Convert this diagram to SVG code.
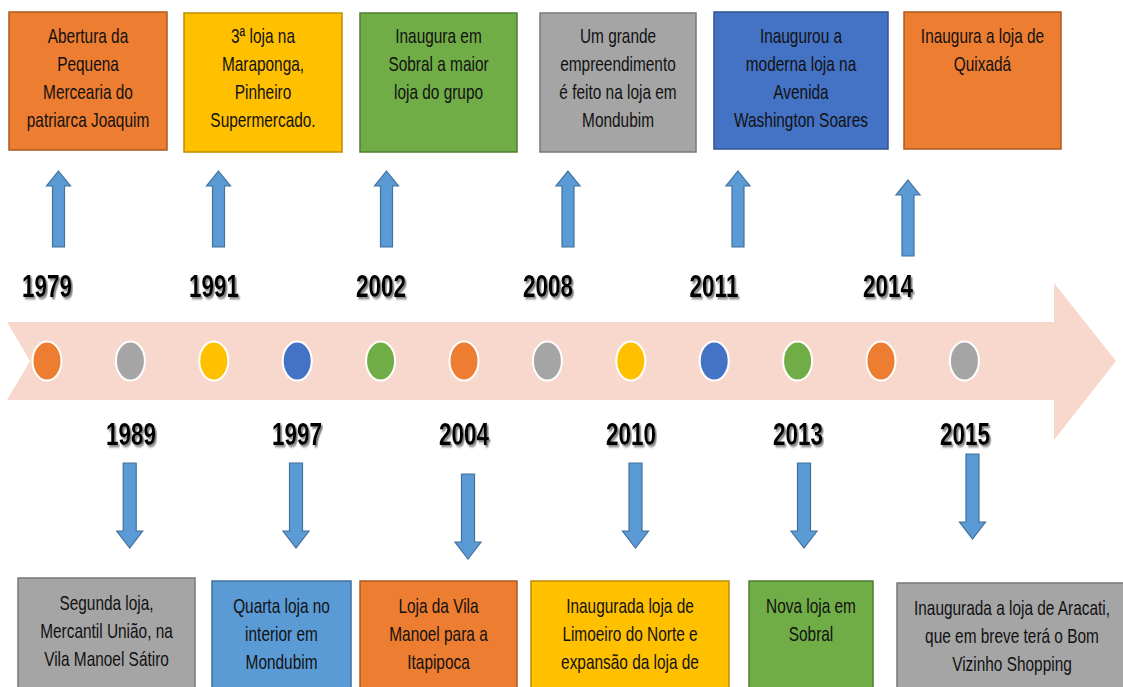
<svg xmlns="http://www.w3.org/2000/svg" width="1123" height="687" viewBox="0 0 1123 687">
<style>
.box{stroke-width:1.5}
.or{fill:#ED7D31;stroke:#AE5A21}
.ye{fill:#FFC000;stroke:#BC8C00}
.gr{fill:#70AD47;stroke:#507E32}
.gy{fill:#A5A5A5;stroke:#787878}
.bl{fill:#4472C4;stroke:#2F528F}
.lb{fill:#5B9BD5;stroke:#41719C}
.t{font-family:"Liberation Sans",Arial,sans-serif;font-size:15.4px;fill:#111;text-anchor:middle}
.yr{font-family:"Liberation Sans",Arial,sans-serif;font-weight:bold;font-size:22.5px;fill:#000;text-anchor:middle;filter:url(#sh)}
.arr{fill:#5B9BD5;stroke:#41719C;stroke-width:1.2}
.dot{stroke:#fff;stroke-width:2}
</style>
<defs>
<filter id="sh" x="-20%" y="-20%" width="140%" height="140%">
<feDropShadow dx="1.6" dy="1.6" stdDeviation="0.6" flood-color="#6e6e6e" flood-opacity="0.9"/>
</filter>
<path id="up" d="M0,0 L12,15 L6,15 L6,76 L-6,76 L-6,15 L-12,15 Z"/>
<path id="dn" d="M-6.5,0 L6.5,0 L6.5,68 L13,68 L0,85 L-13,68 L-6.5,68 Z"/>
</defs>
<rect width="1123" height="687" fill="#fff"/>

<g id="timeline">
<path d="M7,322 L1054,322 L1054,283 L1116,361 L1054,440 L1054,400 L7,400 L30,361 Z" fill="#F8D8CD"/>
<ellipse class="dot" cx="47" cy="361" rx="14.5" ry="19.5" fill="#ED7D31"/>
<ellipse class="dot" cx="130.4" cy="361" rx="14.5" ry="19.5" fill="#A5A5A5"/>
<ellipse class="dot" cx="213.8" cy="361" rx="14.5" ry="19.5" fill="#FFC000"/>
<ellipse class="dot" cx="297.2" cy="361" rx="14.5" ry="19.5" fill="#4472C4"/>
<ellipse class="dot" cx="380.6" cy="361" rx="14.5" ry="19.5" fill="#70AD47"/>
<ellipse class="dot" cx="464" cy="361" rx="14.5" ry="19.5" fill="#ED7D31"/>
<ellipse class="dot" cx="547.4" cy="361" rx="14.5" ry="19.5" fill="#A5A5A5"/>
<ellipse class="dot" cx="630.8" cy="361" rx="14.5" ry="19.5" fill="#FFC000"/>
<ellipse class="dot" cx="714.2" cy="361" rx="14.5" ry="19.5" fill="#4472C4"/>
<ellipse class="dot" cx="797.6" cy="361" rx="14.5" ry="19.5" fill="#70AD47"/>
<ellipse class="dot" cx="881" cy="361" rx="14.5" ry="19.5" fill="#ED7D31"/>
<ellipse class="dot" cx="964.4" cy="361" rx="14.5" ry="19.5" fill="#A5A5A5"/>
</g>

<g id="years">
<text class="yr" transform="matrix(1 0 0 1.36 47 297)">1979</text>
<text class="yr" transform="matrix(1 0 0 1.36 214 297)">1991</text>
<text class="yr" transform="matrix(1 0 0 1.36 381 297)">2002</text>
<text class="yr" transform="matrix(1 0 0 1.36 548 297)">2008</text>
<text class="yr" transform="matrix(1 0 0 1.36 714 297)">2011</text>
<text class="yr" transform="matrix(1 0 0 1.36 888 297)">2014</text>
<text class="yr" transform="matrix(1 0 0 1.36 131 445)">1989</text>
<text class="yr" transform="matrix(1 0 0 1.36 297 445)">1997</text>
<text class="yr" transform="matrix(1 0 0 1.36 464 445)">2004</text>
<text class="yr" transform="matrix(1 0 0 1.36 631 445)">2010</text>
<text class="yr" transform="matrix(1 0 0 1.36 798 445)">2013</text>
<text class="yr" transform="matrix(1 0 0 1.36 965 445)">2015</text>
</g>

<g id="connectors">
<use href="#up" class="arr" transform="translate(58.5,171)"/>
<use href="#up" class="arr" transform="translate(218.5,171)"/>
<use href="#up" class="arr" transform="translate(386.5,171)"/>
<use href="#up" class="arr" transform="translate(568,171)"/>
<use href="#up" class="arr" transform="translate(738,171)"/>
<use href="#up" class="arr" transform="translate(908,180)"/>
<use href="#dn" class="arr" transform="translate(129.7,463)"/>
<use href="#dn" class="arr" transform="translate(296,463)"/>
<use href="#dn" class="arr" transform="translate(468,474)"/>
<use href="#dn" class="arr" transform="translate(635.5,463)"/>
<use href="#dn" class="arr" transform="translate(804,463)"/>
<use href="#dn" class="arr" transform="translate(972.5,454)"/>
</g>

<g id="n1979">
<rect class="box or" x="9" y="12" width="158" height="138"/>
<text class="t" transform="matrix(1 0 0 1.3 88 43)"><tspan x="0">Abertura da</tspan><tspan x="0" dy="21.54">Pequena</tspan><tspan x="0" dy="21.54">Mercearia do</tspan><tspan x="0" dy="21.54">patriarca Joaquim</tspan></text>
</g>
<g id="n1991">
<rect class="box ye" x="184" y="13" width="158" height="139"/>
<text class="t" transform="matrix(1 0 0 1.3 263 43)"><tspan x="0">3ª loja na</tspan><tspan x="0" dy="21.54">Maraponga,</tspan><tspan x="0" dy="21.54">Pinheiro</tspan><tspan x="0" dy="21.54">Supermercado.</tspan></text>
</g>
<g id="n2002">
<rect class="box gr" x="360" y="13" width="157" height="139"/>
<text class="t" transform="matrix(1 0 0 1.3 438.5 43)"><tspan x="0">Inaugura em</tspan><tspan x="0" dy="21.54">Sobral a maior</tspan><tspan x="0" dy="21.54">loja do grupo</tspan></text>
</g>
<g id="n2008">
<rect class="box gy" x="540" y="13" width="156" height="139"/>
<text class="t" transform="matrix(1 0 0 1.3 618 43)"><tspan x="0">Um grande</tspan><tspan x="0" dy="21.54">empreendimento</tspan><tspan x="0" dy="21.54">é feito na loja em</tspan><tspan x="0" dy="21.54">Mondubim</tspan></text>
</g>
<g id="n2011">
<rect class="box bl" x="714" y="12" width="174" height="137"/>
<text class="t" transform="matrix(1 0 0 1.3 801 43)"><tspan x="0">Inaugurou a</tspan><tspan x="0" dy="21.54">moderna loja na</tspan><tspan x="0" dy="21.54">Avenida</tspan><tspan x="0" dy="21.54">Washington Soares</tspan></text>
</g>
<g id="n2014">
<rect class="box or" x="904" y="12" width="157" height="137"/>
<text class="t" transform="matrix(1 0 0 1.3 982.5 43)"><tspan x="0">Inaugura a loja de</tspan><tspan x="0" dy="21.54">Quixadá</tspan></text>
</g>

<g id="n1989">
<rect class="box gy" x="18" y="578" width="177" height="130"/>
<text class="t" transform="matrix(1 0 0 1.3 106.5 610)"><tspan x="0">Segunda loja,</tspan><tspan x="0" dy="21.54">Mercantil União, na</tspan><tspan x="0" dy="21.54">Vila Manoel Sátiro</tspan></text>
</g>
<g id="n1997">
<rect class="box lb" x="212" y="581" width="139" height="130"/>
<text class="t" transform="matrix(1 0 0 1.3 281.5 613)"><tspan x="0">Quarta loja no</tspan><tspan x="0" dy="21.54">interior em</tspan><tspan x="0" dy="21.54">Mondubim</tspan></text>
</g>
<g id="n2004">
<rect class="box or" x="360" y="581" width="157" height="130"/>
<text class="t" transform="matrix(1 0 0 1.3 438.5 613)"><tspan x="0">Loja da Vila</tspan><tspan x="0" dy="21.54">Manoel para a</tspan><tspan x="0" dy="21.54">Itapipoca</tspan></text>
</g>
<g id="n2010">
<rect class="box ye" x="531" y="581" width="198" height="130"/>
<text class="t" transform="matrix(1 0 0 1.3 630 613)"><tspan x="0">Inaugurada loja de</tspan><tspan x="0" dy="21.54">Limoeiro do Norte e</tspan><tspan x="0" dy="21.54">expansão da loja de</tspan></text>
</g>
<g id="n2013">
<rect class="box gr" x="749" y="581" width="124" height="130"/>
<text class="t" transform="matrix(1 0 0 1.3 811 613)"><tspan x="0">Nova loja em</tspan><tspan x="0" dy="21.54">Sobral</tspan></text>
</g>
<g id="n2015">
<rect class="box gy" x="897" y="583" width="232" height="130"/>
<text class="t" transform="matrix(1 0 0 1.3 1012 615)"><tspan x="0">Inaugurada a loja de Aracati,</tspan><tspan x="0" dy="21.54">que em breve terá o Bom</tspan><tspan x="0" dy="21.54">Vizinho Shopping</tspan></text>
</g>
</svg>
